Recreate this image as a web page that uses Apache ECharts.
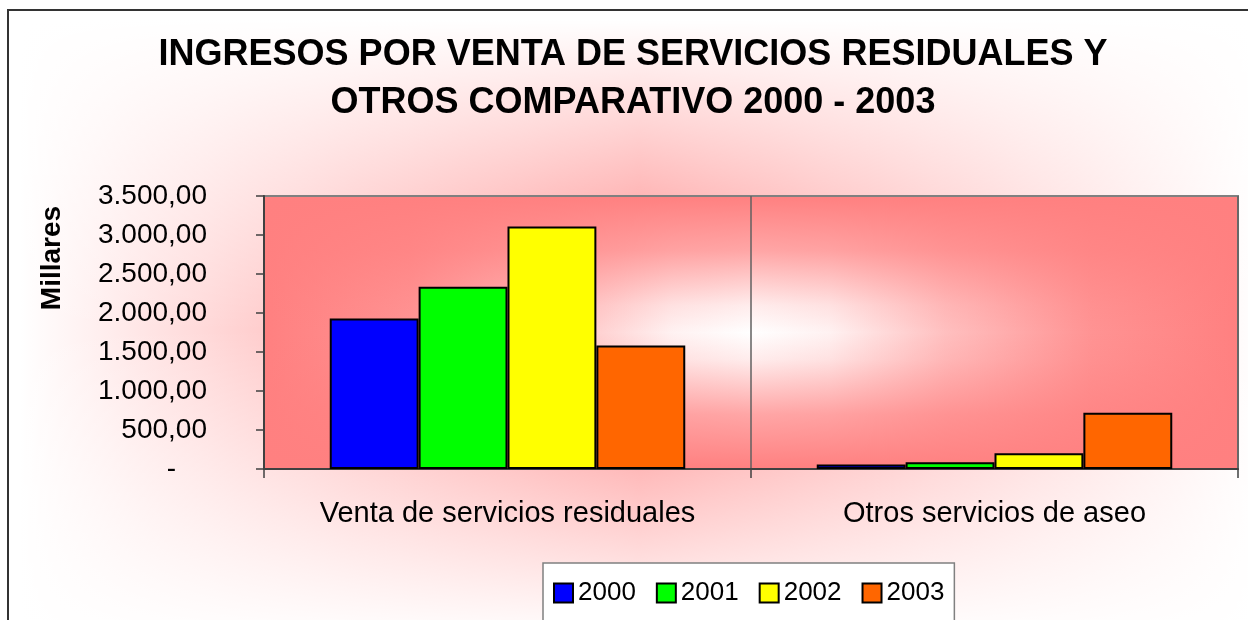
<!DOCTYPE html>
<html>
<head>
<meta charset="utf-8">
<script src="https://cdn.jsdelivr.net/npm/echarts@6/dist/echarts.min.js"></script>
<style>
html,body{margin:0;padding:0;background:#fff;}
#main{width:1248px;height:620px;}
</style>
</head>
<body>
<div id="main"></div>
<script>
// ---- data ----
const titleText = 'INGRESOS POR VENTA DE SERVICIOS RESIDUALES Y\nOTROS COMPARATIVO 2000 - 2003';
const yAxisName = 'Millares';
const categories = ['Venta de servicios residuales', 'Otros servicios de aseo'];
const seriesNames = ['2000', '2001', '2002', '2003'];
const values2000 = [1929, 58];
const values2001 = [2336, 87];
const values2002 = [3110, 203];
const values2003 = [1583, 720];
const seriesColors = ['#0000FF', '#00FF00', '#FFFF00', '#FF6600'];
const yMin = 0, yMax = 3500, yInterval = 500;

// ---- layout ----
const FONT = "'Liberation Sans', Arial, sans-serif";
const G = {left: 264, top: 196, width: 974, height: 273};
const allValues = [values2000, values2001, values2002, values2003];

function fmt(v) {
  if (v === 0) return '{d|-}';
  const s = Math.round(v).toString().replace(/\B(?=(\d{3})+(?!\d))/g, '.');
  return s + ',00';
}
const pink = (a) => 'rgba(255,128,128,' + a + ')';
const white = (a) => 'rgba(255,255,255,' + a + ')';
const plotH = [[0, 1], [0.15, 0.85], [0.3, 0.5], [0.42, 0.1], [0.5, 0], [0.58, 0.1], [0.7, 0.5], [0.85, 0.85], [1, 1]]
  .map(s => ({offset: s[0], color: pink(s[1])}));
const plotV = [[0, 1], [0.2, 0.7], [0.4, 0.15], [0.5, 0], [0.6, 0.15], [0.8, 0.7], [1, 1]]
  .map(s => ({offset: s[0], color: pink(s[1])}));

const chart = echarts.init(document.getElementById('main'), null, {renderer: 'canvas'});
chart.setOption({
  backgroundColor: '#ffffff',
  animation: false,
  textStyle: {fontFamily: FONT, color: '#000'},
  title: {
    text: titleText,
    left: 633,
    top: 31,
    padding: 0,
    textAlign: 'center',
    textStyle: {fontFamily: FONT, fontSize: 36, fontWeight: 'bold', color: '#000', lineHeight: 48}
  },
  legend: {
    data: seriesNames,
    left: 543,
    top: 563,
    padding: [17, 10, 17, 10],
    backgroundColor: '#ffffff',
    borderColor: '#808080',
    borderWidth: 1.5,
    borderRadius: 0,
    icon: 'rect',
    itemWidth: 19,
    itemHeight: 19,
    itemGap: 20,
    textStyle: {fontFamily: FONT, fontSize: 26, color: '#000'}
  },
  grid: {left: G.left, top: G.top, width: G.width, height: G.height, containLabel: false},
  xAxis: {
    type: 'category',
    data: categories,
    boundaryGap: true,
    axisLine: {show: true, lineStyle: {color: '#404040', width: 2}},
    axisTick: {show: true, length: 9, lineStyle: {color: '#404040', width: 1.5}},
    splitLine: {show: true, lineStyle: {color: '#606060', width: 1.5}},
    axisLabel: {fontFamily: FONT, fontSize: 29, color: '#000', margin: 30, interval: 0}
  },
  yAxis: {
    type: 'value',
    min: yMin, max: yMax, interval: yInterval,
    axisLine: {show: true, lineStyle: {color: '#404040', width: 2}},
    axisTick: {show: true, length: 8, lineStyle: {color: '#404040', width: 1.5}},
    splitLine: {show: false},
    axisLabel: {
      fontFamily: FONT, fontSize: 28, color: '#000', margin: 57,
      formatter: fmt,
      rich: {d: {fontFamily: FONT, fontSize: 28, color: '#000', padding: [0, 31, 0, 0]}}
    }
  },
  graphic: {
    elements: [
      {type: 'rect', z: -20, shape: {x: 8, y: 10, width: 1300, height: 700},
        style: {fill: '#ffffff', stroke: '#333333', lineWidth: 2}},
      {type: 'rect', z: -19, shape: {x: 20, y: 20, width: 1240, height: 620},
        style: {fill: {type: 'linear', x: 0, y: 0, x2: 1, y2: 0,
          colorStops: [{offset: 0, color: pink(0)}, {offset: 0.5, color: pink(1)}, {offset: 1, color: pink(0)}]}}},
      {type: 'rect', z: -18, shape: {x: 20, y: 20, width: 1240, height: 620},
        style: {fill: {type: 'linear', x: 0, y: 0, x2: 0, y2: 1,
          colorStops: [{offset: 0, color: white(1)}, {offset: 0.5, color: white(0)}, {offset: 1, color: white(1)}]}}},
      {type: 'rect', z: -17, shape: {x: G.left, y: G.top, width: G.width, height: G.height},
        style: {fill: '#ffffff'}},
      {type: 'rect', z: -16, shape: {x: G.left, y: G.top, width: G.width, height: G.height},
        style: {fill: {type: 'linear', x: 0, y: 0, x2: 1, y2: 0, colorStops: plotH}}},
      {type: 'rect', z: -15, shape: {x: G.left, y: G.top, width: G.width, height: G.height},
        style: {fill: {type: 'linear', x: 0, y: 0, x2: 0, y2: 1, colorStops: plotV}}},
      {type: 'rect', z: -14, shape: {x: G.left, y: G.top, width: G.width, height: G.height},
        style: {fill: 'none', stroke: '#808080', lineWidth: 2}},
      {type: 'text', z: 5, x: 52, y: 258, rotation: Math.PI / 2,
        style: {text: yAxisName, fontFamily: FONT, fontSize: 28, fontWeight: 'bold', fill: '#000',
          align: 'center', verticalAlign: 'middle'}}
    ]
  },
  series: seriesNames.map((name, i) => ({
    name: name,
    type: 'bar',
    data: allValues[i],
    z: 10,
    barGap: '0%',
    barCategoryGap: '27%',
    itemStyle: {color: seriesColors[i], borderColor: '#000', borderWidth: 2}
  }))
});
</script>
</body>
</html>
